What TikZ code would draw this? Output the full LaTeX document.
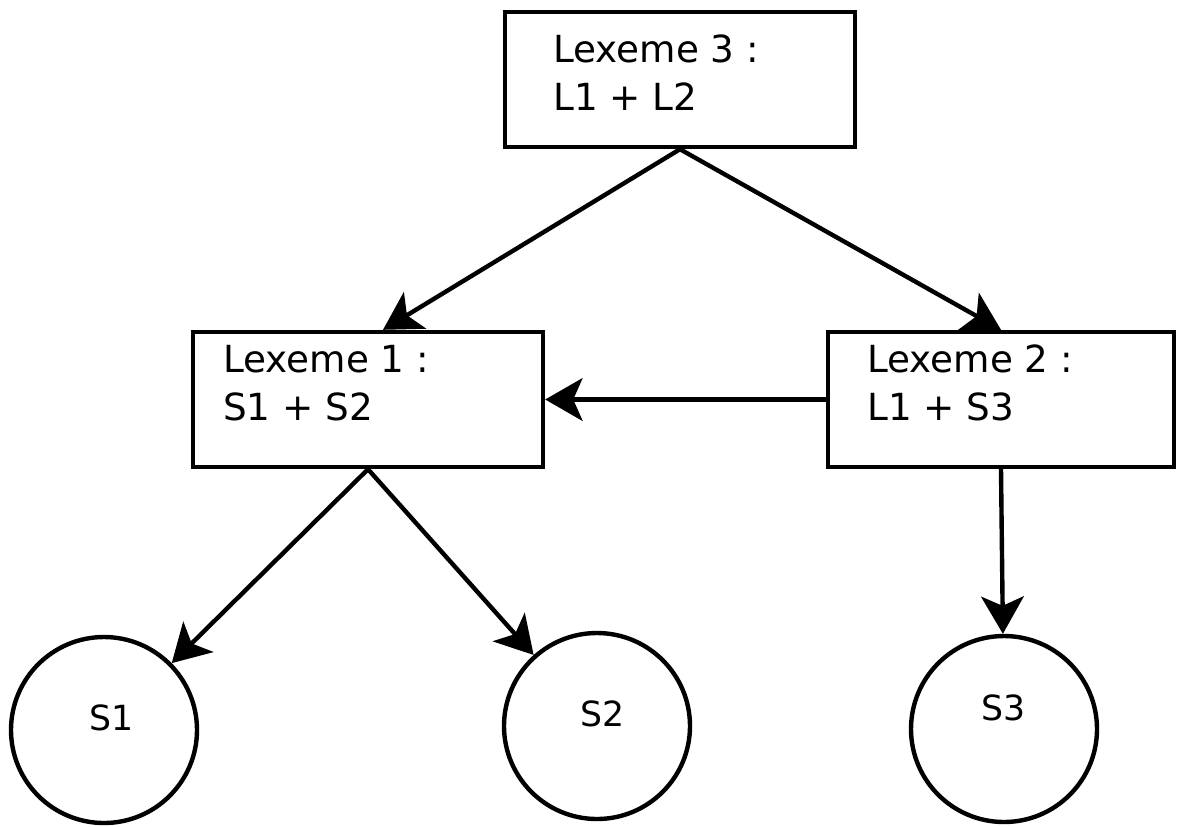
\documentclass[tikz,border=0pt]{standalone}
\usepackage{fontspec}
\setmainfont{DejaVu Sans}
\usetikzlibrary{arrows.meta,calc}
\tikzset{
  lexbox/.style={draw, line width=3.3pt, rectangle, inner sep=0pt},
  lextext/.style={anchor=base west, inner sep=0pt, align=left, font=\fontsize{28pt}{36pt}\selectfont},
  sembox/.style={draw, line width=3.3pt, circle, inner sep=0pt, minimum size=139.5pt},
  semtext/.style={inner sep=0pt, font=\fontsize{26pt}{32pt}\selectfont},
  link/.style={line width=3.3pt, -{Stealth[length=28pt, width=32pt, inset=7pt]}}
}
\begin{document}
\begin{tikzpicture}[x=0.75pt, y=-0.75pt]
\useasboundingbox (0,0) rectangle (1177,826);
% boxes
\node[lexbox, minimum width=262.5pt, minimum height=101.25pt] (l3) at (680,79.5) {};
\node[lexbox, minimum width=262.5pt, minimum height=101.25pt] (l1) at (368,399.5) {};
\node[lexbox, minimum width=259.5pt, minimum height=101.25pt] (l2) at (1001,399.5) {};
\node[lextext] (l3t) at (553,110) {Lexeme 3 :\\L1 + L2};
\node[lextext] (l1t) at (223,420) {Lexeme 1 :\\S1 + S2};
\node[lextext] (l2t) at (867,420) {Lexeme 2 :\\L1 + S3};
% circles
\node[sembox] (s1) at (104,730) {};
\node[sembox] (s2) at (597,726) {};
\node[sembox] (s3) at (1004,729) {};
\node[semtext] (s1t) at (112,718) {S1};
\node[semtext] (s2t) at (603,714) {S2};
\node[semtext] (s3t) at (1004,708) {S3};
% connectors
\draw[link] (l3.south) -- ($(l1.north)+(15,0)$);
\draw[link] (l3.south) -- (l2.north);
\draw[link] (l2.west) -- (l1.east);
\draw[link] (l1.south) -- (s1);
\draw[link] (l1.south) -- (s2);
\draw[link] (l2.south) -- (s3);
\end{tikzpicture}
\end{document}
